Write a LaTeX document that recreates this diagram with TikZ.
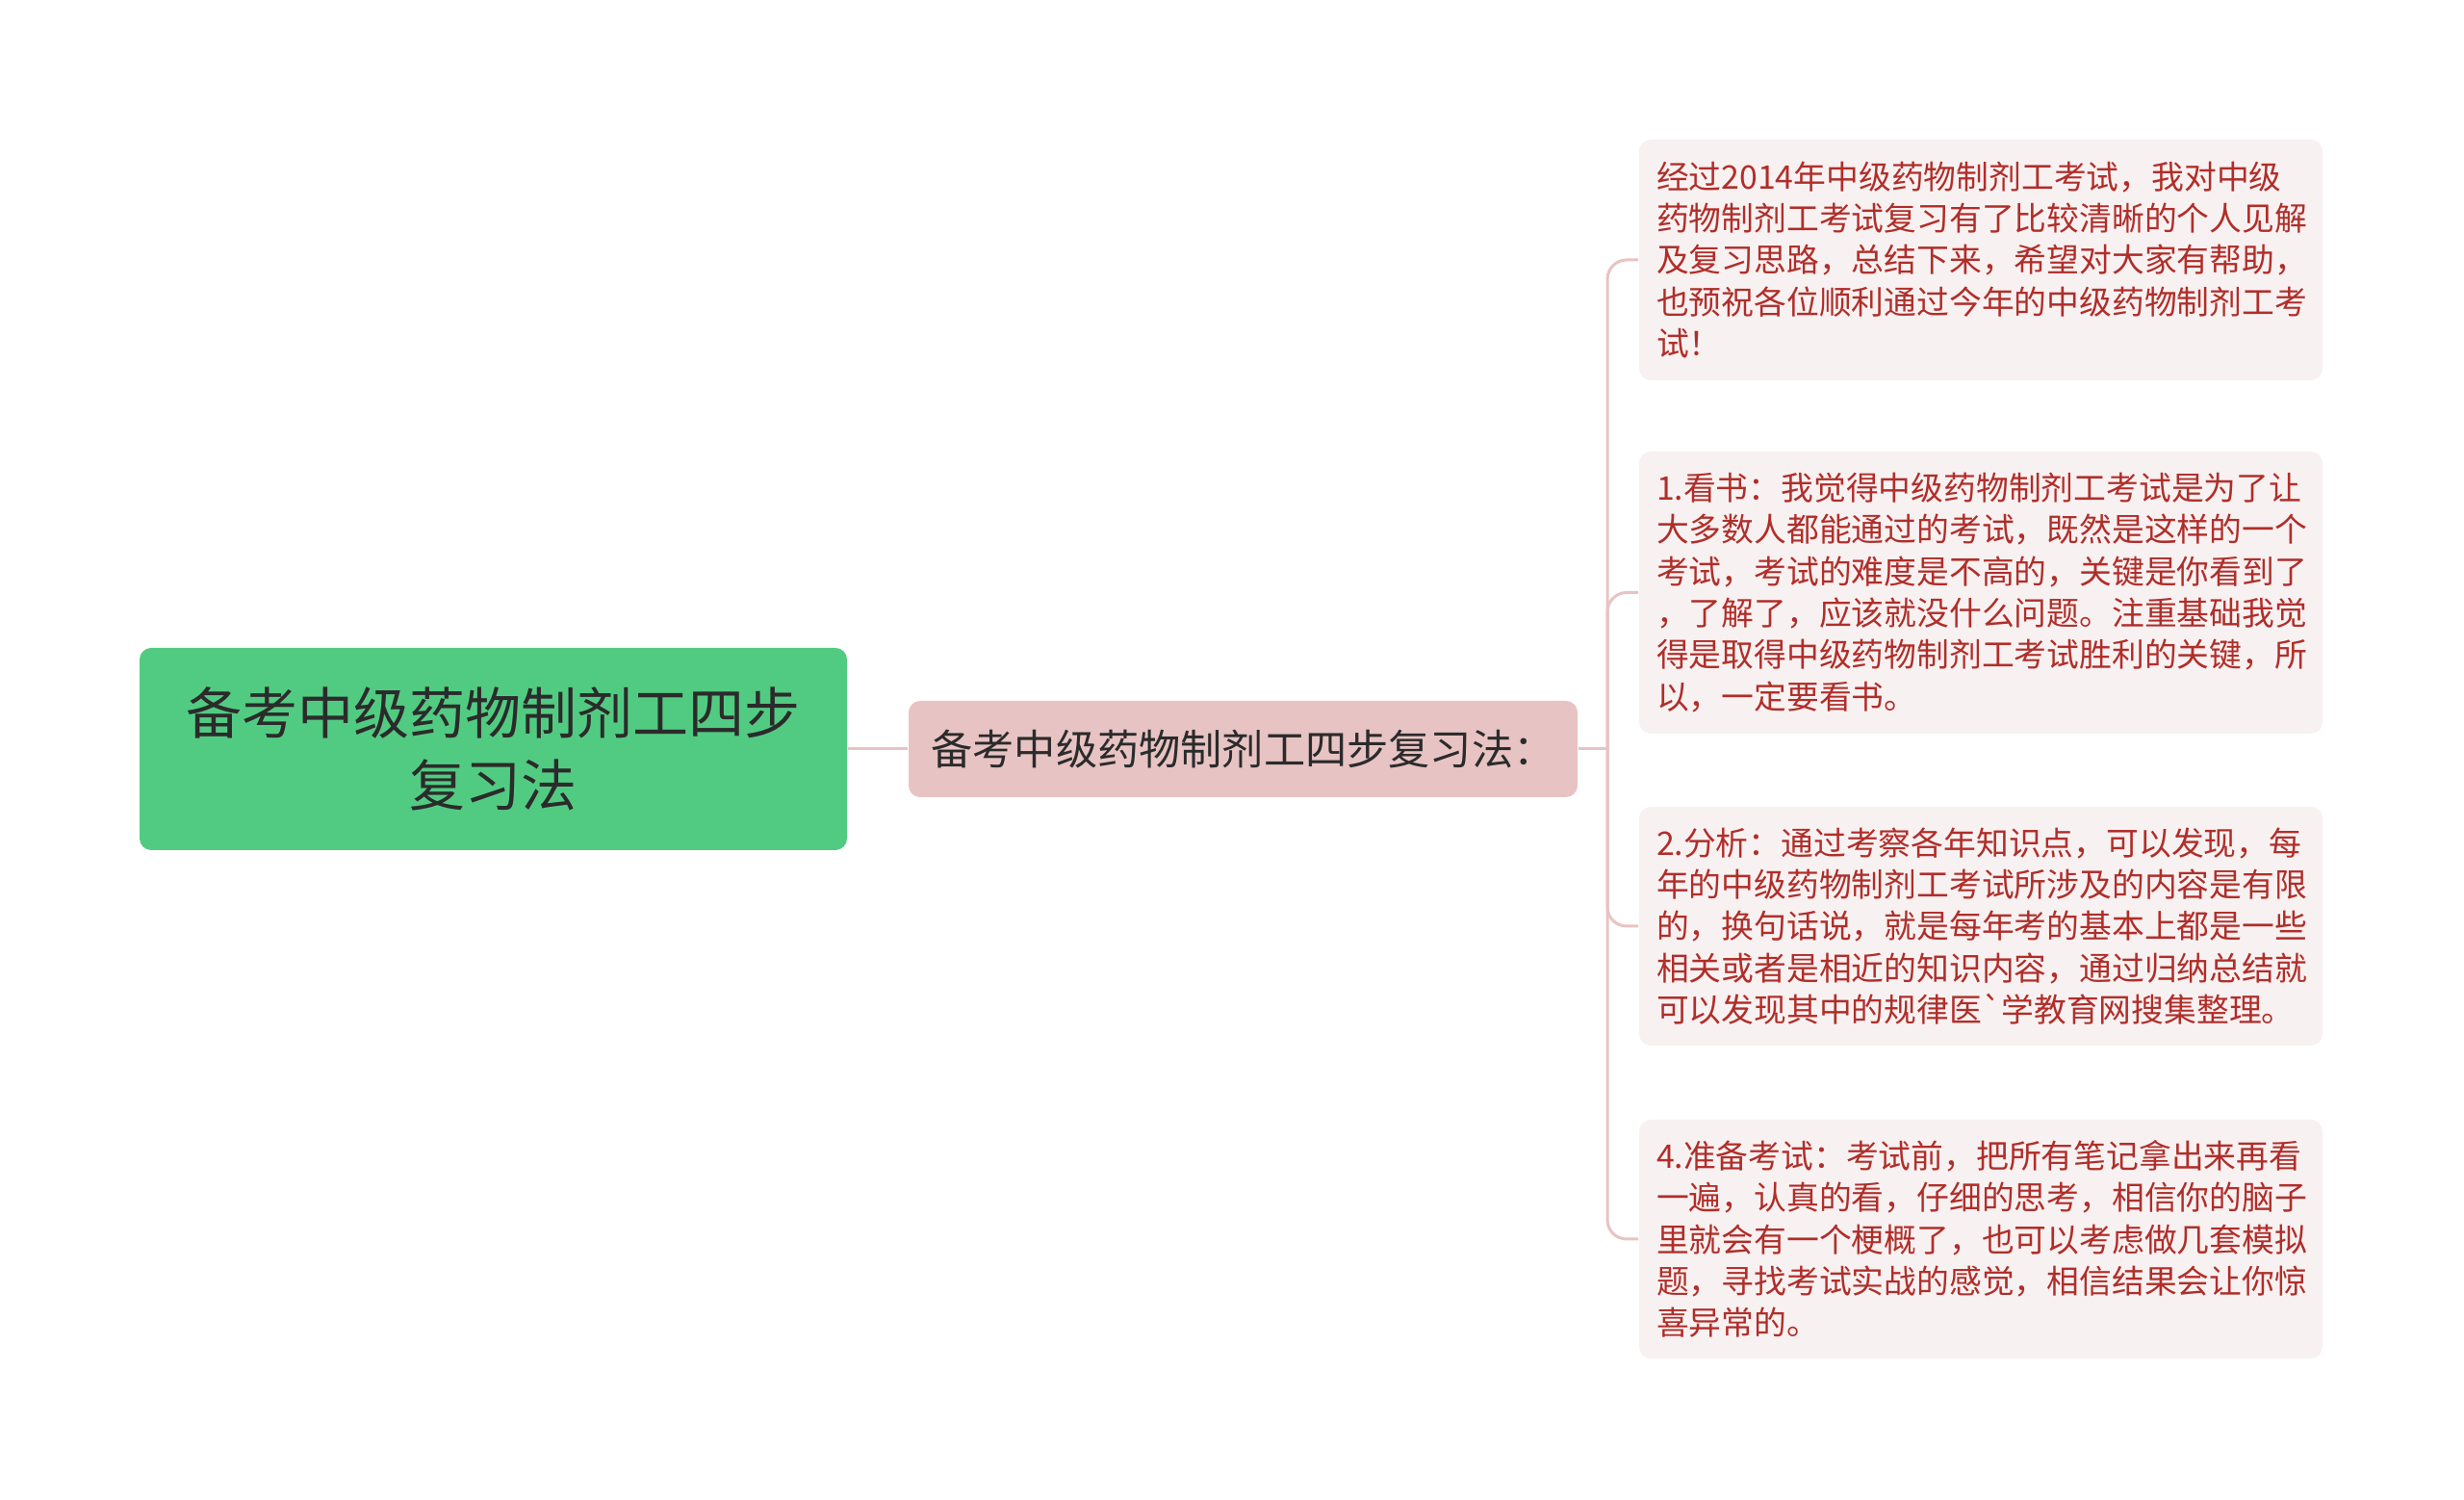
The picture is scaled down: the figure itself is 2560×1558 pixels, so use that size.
\documentclass[tikz,border=0pt]{standalone}
\usepackage{fontspec}
\setmainfont{Noto Sans CJK SC}[Ligatures=TeXOff]
\definecolor{rootgreen}{HTML}{52CB82}
\definecolor{midpink}{HTML}{E8C3C3}
\definecolor{leafpink}{HTML}{F8F1F1}
\definecolor{leafred}{HTML}{B02E2A}
\definecolor{darktext}{HTML}{2B2B2B}
\begin{document}
\begin{tikzpicture}[x=.25pt,y=-.25pt,
  rootbox/.style={fill=rootgreen,draw=none,rounded corners=3pt,minimum width=183.75pt,minimum height=52.5pt,
    align=center,text=darktext,font=\fontsize{14.5pt}{18.8pt}\selectfont},
  midbox/.style={fill=midpink,draw=none,rounded corners=3pt,minimum width=173.75pt,minimum height=25pt,
    text=darktext,font=\fontsize{10.8pt}{13pt}\selectfont},
  leafbox/.style={fill=leafpink,draw=none,rounded corners=3pt,text width=168.5pt,inner xsep=4.5pt,
    align=left,text=leafred,font=\fontsize{8.45pt}{10.83pt}\selectfont},
  link/.style={draw=midpink,line width=.75pt}]
  \useasboundingbox (0,0) rectangle (2560,1558);
  % centre and first branch
  \node[rootbox] (root) at (512.5,778) {备考中级药物制剂工四步\\复习法};
  \node[midbox] (mid) at (1291.5,778) {备考中级药物制剂工四步复习法：};
  % the four leaves
  \node[leafbox,minimum height=62.5pt] (intro) at (2058,270)
    {经过2014年中级药物制剂工考试，我对中级\\药物制剂工考试复习有了比较清晰的个人见解\\及复习思路，总结下来，希望对大家有帮助，\\也预祝各位顺利通过今年的中级药物制剂工考\\试！};
  \node[leafbox,minimum height=73.25pt] (book) at (2058,615.5)
    {1.看书：我觉得中级药物制剂工考试是为了让\\大多数人都能通过的考试，既然是这样的一个\\考试，考试的难度是不高的，关键是你看到了\\，了解了，应该就没什么问题。注重基础我觉\\得是取得中级药物制剂工考试胜利的关键，所\\以，一定要看书。};
  \node[leafbox,minimum height=62pt] (analyse) at (2058,962)
    {2.分析：通过考察各年知识点，可以发现，每\\年的中级药物制剂工考试所涉及的内容是有限\\的，换句话说，就是每年考的基本上都是一些\\相关或者是相近的知识内容，通过归纳总结就\\可以发现其中的规律医\symbol{96}学教育网搜集整理。};
  \node[leafbox,minimum height=62pt] (exam) at (2058,1287)
    {4.准备考试：考试前，把所有笔记拿出来再看\\一遍，认真的看，仔细的思考，相信你的脑子\\里就会有一个梗概了，也可以考虑做几套模拟\\题，寻找考试实战的感觉，相信结果会让你惊\\喜异常的。};
  \coordinate (fork) at (1670,778);
  \draw[link] (root.east) -- (mid.west);
  \draw[link] (mid.east) -- (fork);
  \foreach \leaf in {intro,book,analyse,exam}
    \draw[link,rounded corners=5pt] (fork) |- (\leaf.west);
\end{tikzpicture}
\end{document}
